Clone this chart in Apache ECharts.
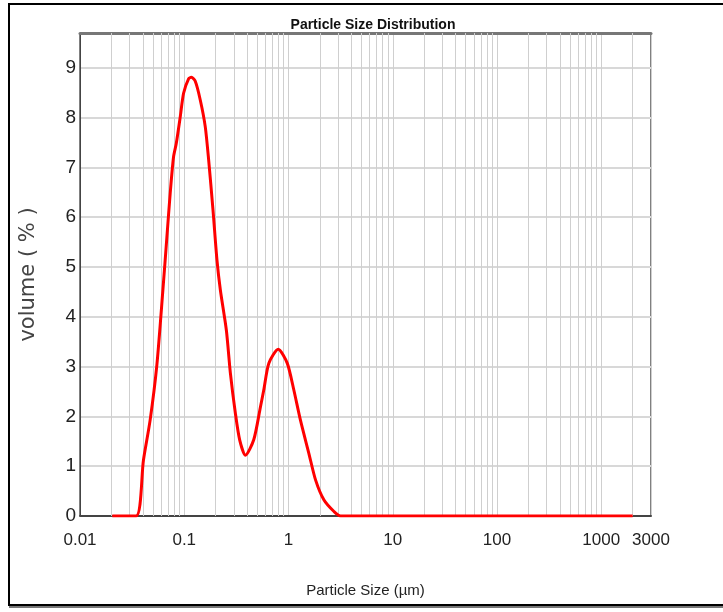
<!DOCTYPE html>
<html>
<head>
<meta charset="utf-8">
<script src="https://cdn.jsdelivr.net/npm/echarts@6/dist/echarts.min.js"></script>
<style>
  html, body { margin: 0; padding: 0; background: #fff; }
  #chart { width: 723px; height: 612px; }
</style>
</head>
<body>
<div id="chart"></div>
<script>
// particle size (um) and volume (%)
var sizes = [0.0204, 0.0345, 0.0406, 0.0471, 0.0546, 0.0624, 0.0682, 0.0733, 0.0789, 0.0838,
  0.0916, 0.0985, 0.110, 0.117, 0.1276, 0.1426, 0.159, 0.1714, 0.1888, 0.206, 0.222, 0.2535,
  0.277, 0.309, 0.340, 0.386, 0.464, 0.538, 0.579, 0.648, 0.797, 0.972, 1.125, 1.30, 1.567,
  1.82, 2.19, 2.73, 3.16, 2000];
var volumes = [0, 0, 1.12, 1.93, 3.03, 4.54, 5.61, 6.48, 7.21, 7.48,
  8.02, 8.49, 8.78, 8.81, 8.73, 8.35, 7.82, 7.15, 6.14, 5.14, 4.54, 3.73,
  2.87, 2.07, 1.53, 1.22, 1.53, 2.19, 2.53, 3.07, 3.35, 3.07, 2.53, 1.93, 1.26,
  0.72, 0.32, 0.09, 0, 0];

var xMin = 0.01, xMax = 3000;
var yMin = 0, yMax = 9.7;

var font = "'Liberation Sans', Arial, sans-serif";

// minor vertical grid lines (2..9 in every decade)
var minorLines = [];
for (var d = -2; d <= 3; d++) {
  for (var k = 2; k <= 9; k++) {
    var v = k * Math.pow(10, d);
    if (v < xMax) minorLines.push({ xAxis: v });
  }
}

var chart = echarts.init(document.getElementById('chart'));
chart.setOption({
  animation: false,
  backgroundColor: '#fff',
  grid: { left: 80, right: 72, top: 33, bottom: 96, show: true, borderColor: '#000', borderWidth: 1 },
  graphic: [
    { type: 'rect', shape: { x: 9, y: 4, width: 760, height: 601 }, style: { fill: 'none', stroke: '#000', lineWidth: 2 } },
    { type: 'line', shape: { x1: 9, y1: 607, x2: 723, y2: 607 }, style: { stroke: '#777', lineWidth: 2 } },
    { type: 'text', x: 373, y: 25, style: { text: 'Particle Size Distribution', textAlign: 'center', textVerticalAlign: 'middle',
      font: "bold 14px " + font, fill: '#111' } }
  ],
  xAxis: [{
    type: 'log',
    logBase: 10,
    min: xMin,
    max: xMax,
    name: 'Particle Size (µm)',
    nameLocation: 'middle',
    nameGap: 67,
    nameTextStyle: { fontFamily: font, fontSize: 15, color: '#222' },
    axisLine: { show: true, lineStyle: { color: '#444', width: 2 } },
    axisTick: { show: false },
    axisLabel: {
      margin: 16,
      fontFamily: font, fontSize: 17, color: '#222',
      formatter: function (v) { return String(Number(v.toPrecision(4))); }
    },
    splitLine: { show: true, lineStyle: { color: '#cfcfcf', width: 1 } }
  }, {
    type: 'log',
    position: 'top',
    min: xMin,
    max: xMax,
    axisLine: { show: true, lineStyle: { color: '#777', width: 3 } },
    axisTick: { show: false },
    axisLabel: { show: false },
    splitLine: { show: false }
  }],
  yAxis: {
    type: 'value',
    min: yMin,
    max: yMax,
    interval: 1,
    name: 'volume ( % )',
    nameLocation: 'middle',
    nameGap: 41,
    nameTextStyle: { fontFamily: "'DejaVu Sans', sans-serif", fontSize: 21, color: '#444' },
    axisLine: { show: true, lineStyle: { color: '#444', width: 1 } },
    axisTick: { show: false },
    axisLabel: {
      margin: 4, fontFamily: font, fontSize: 19, color: '#222',
      showMaxLabel: false
    },
    splitLine: { show: true, lineStyle: { color: '#d8d8d8', width: 2 } }
  },
  series: [{
    type: 'line',
    data: [],
    z: 1,
    markLine: {
      silent: true,
      symbol: ['none', 'none'],
      label: { show: false },
      lineStyle: { color: '#cfcfcf', width: 1, type: 'solid' },
      data: minorLines
    }
  }, {
    name: 'Volume',
    type: 'line',
    z: 5,
    data: sizes.map(function (s, i) { return [s, volumes[i]]; }),
    showSymbol: false,
    smooth: 0.25,
    lineStyle: { color: '#ff0000', width: 3, join: 'round' },
    itemStyle: { color: '#ff0000' }
  }]
});
</script>
</body>
</html>
